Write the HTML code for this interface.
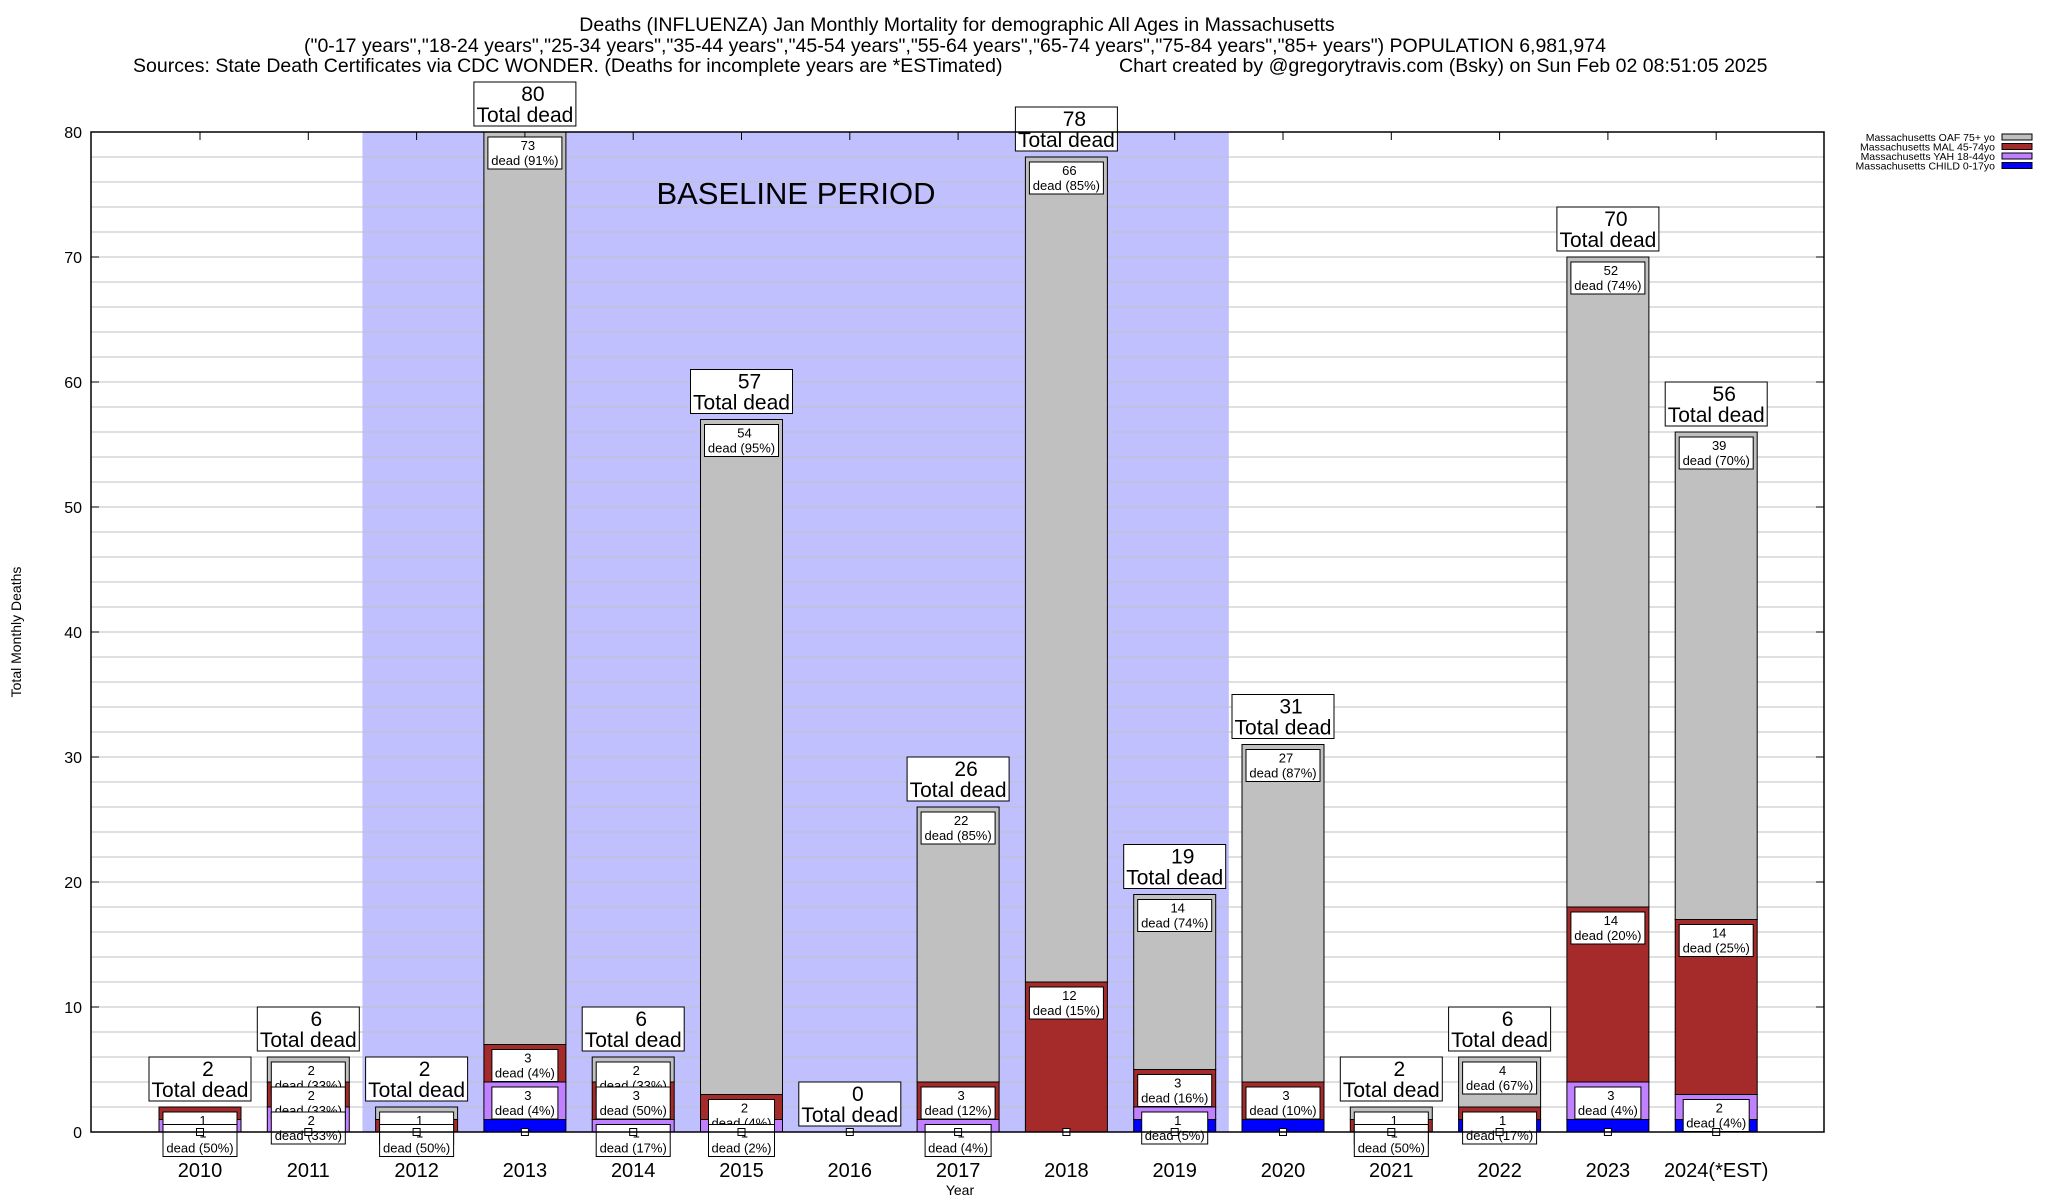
<!DOCTYPE html>
<html><head><meta charset="utf-8">
<style>
body{margin:0;background:#fff;}
svg{display:block;font-family:"Liberation Sans",sans-serif;}
</style></head>
<body>
<svg id="chart" width="2048" height="1200" viewBox="0 0 2048 1200" xmlns="http://www.w3.org/2000/svg">
<rect x="0" y="0" width="2048" height="1200" fill="#fff"/>
<g font-size="19.5" text-anchor="middle" fill="#000">
<text x="957" y="31">Deaths (INFLUENZA) Jan Monthly Mortality for demographic All Ages in Massachusetts</text>
<text x="955" y="52">("0-17 years","18-24 years","25-34 years","35-44 years","45-54 years","55-64 years","65-74 years","75-84 years","85+ years") POPULATION 6,981,974</text>
<text x="133" y="72" text-anchor="start">Sources: State Death Certificates via CDC WONDER. (Deaths for incomplete years are *ESTimated)</text>
<text x="1119" y="72" text-anchor="start">Chart created by @gregorytravis.com (Bsky) on Sun Feb 02 08:51:05 2025</text>
</g>
<g id="plot"></g>
</svg>
<script>
const categories=["2010","2011","2012","2013","2014","2015","2016","2017","2018","2019","2020","2021","2022","2023","2024(*EST)"];
const child=[0,0,0,1,0,0,0,0,0,1,1,0,1,1,1];
const yah=[1,2,0,3,1,1,0,1,0,1,0,0,0,3,2];
const mal=[1,2,1,3,3,2,0,3,12,3,3,1,1,14,14];
const oaf=[0,2,1,73,2,54,0,22,66,14,27,1,4,52,39];
const yTicks=[0,10,20,30,40,50,60,70,80];
const baselineRange=["2012","2019"];

const NS="http://www.w3.org/2000/svg";
const plot=document.getElementById('plot');
const L=91,R=1824,T=132,B=1132,X0=200,STEP=108.3,BW=82;
const ymax=80;
function y(v){return B-(B-T)*v/ymax;}
function xc(i){return X0+STEP*i;}
function el(tag,attrs,parent){const e=document.createElementNS(NS,tag);for(const k in attrs)e.setAttribute(k,attrs[k]);(parent||plot).appendChild(e);return e;}

const bi0=categories.indexOf(baselineRange[0]),bi1=categories.indexOf(baselineRange[1]);
const base=el('rect',{x:xc(bi0)-STEP/2,y:T,width:STEP*(bi1-bi0+1),height:B-T,fill:'#c0c0ff'});


for(let v=2;v<ymax;v+=2){
  const g=el('line',{x1:L,x2:R,y1:y(v),y2:y(v),stroke:'#c0c0c0','stroke-width':1});
  
  
}
const bt=el('text',{x:796,y:204,'font-size':31,'text-anchor':'middle'});
bt.textContent='BASELINE PERIOD';



yTicks.forEach(v=>{
  const t=el('text',{x:82,y:y(v)+6,'font-size':16,'text-anchor':'end'});
  t.textContent=v;
  
  
  el('line',{x1:L,x2:L+8,y1:y(v),y2:y(v),stroke:'#000'});
  el('line',{x1:R-8,x2:R,y1:y(v),y2:y(v),stroke:'#000'});
});
const yt=el('text',{x:21,y:632,'font-size':14,'text-anchor':'middle',transform:'rotate(-90 21 632)'});
yt.textContent='Total Monthly Deaths';


const xt=el('text',{x:960,y:1195,'font-size':14,'text-anchor':'middle'});
xt.textContent='Year';



const series=[[child,'#0000ff','child'],[yah,'#c080ff','yah'],[mal,'#a52a2a','mal'],[oaf,'#c0c0c0','oaf']];
const labelLayer=[];
categories.forEach((c,i)=>{
  const total=child[i]+yah[i]+mal[i]+oaf[i];
  let acc=0;
  const g=el('g',{});
  
  
  const labs=[];
  series.forEach(([arr,col,nm])=>{
    const v=arr[i];
    if(v>0){
      const r=el('rect',{x:xc(i)-BW/2,y:y(acc+v),width:BW,height:y(acc)-y(acc+v),fill:col,stroke:'#000','stroke-width':1},g);
      
      
      if(nm!=='child') labs.push([i,y(acc+v),v,Math.round(v/total*100)]);
    }
    acc+=v;
  });
  labs.reverse().forEach(l=>labelLayer.push(l));
  const xl=el('text',{x:xc(i),y:1177,'font-size':20,'text-anchor':'middle'});
  xl.textContent=c;
  
  
  el('line',{x1:xc(i),x2:xc(i),y1:T,y2:T+8,stroke:'#000'});
  const tb=y(total)-6;
  const box=el('rect',{x:xc(i)-51,y:tb-44,width:102,height:44,fill:'#fff',stroke:'#000'});
  
  
  const n=el('text',{x:xc(i)+8,y:tb-25,'font-size':21,'text-anchor':'middle'});n.textContent=total;
  
  
  const td=el('text',{x:xc(i),y:tb-4,'font-size':21,'text-anchor':'middle'});td.textContent='Total dead';
  
  
});
labelLayer.forEach(([i,top,v,p])=>{
  const w=p>=10?74:66;
  const b=el('rect',{x:xc(i)-w/2,y:top+5,width:w,height:32,fill:'#fff',stroke:'#000'});
  
  
  const t1=el('text',{x:xc(i)+3,y:top+18,'font-size':13,'text-anchor':'middle'});t1.textContent=v;
  
  
  const t2=el('text',{x:xc(i),y:top+33,'font-size':13,'text-anchor':'middle'});t2.textContent='dead ('+p+'%)';
  
  
});
categories.forEach((c,i)=>{
  const m=el('rect',{x:xc(i)-3.5,y:B-3.5,width:7,height:7,fill:'#fff',stroke:'#000'});
  
  
});
const fr=el('rect',{x:L,y:T,width:R-L,height:B-T,fill:'none',stroke:'#000','stroke-width':1.5});


const legNames=["Massachusetts OAF 75+ yo","Massachusetts MAL 45-74yo","Massachusetts YAH 18-44yo","Massachusetts CHILD 0-17yo"];
const legCols=['#c0c0c0','#a52a2a','#c080ff','#0000ff'];
legNames.forEach((nm,k)=>{
  const yy=137+k*9.5;
  const t=el('text',{x:1995,y:yy+4,'font-size':10.5,'text-anchor':'end'});t.textContent=nm;
  
  
  const s=el('rect',{x:2002,y:yy-3,width:30,height:6,fill:legCols[k],stroke:'#000'});
  
  
});
</script>
</body></html>
